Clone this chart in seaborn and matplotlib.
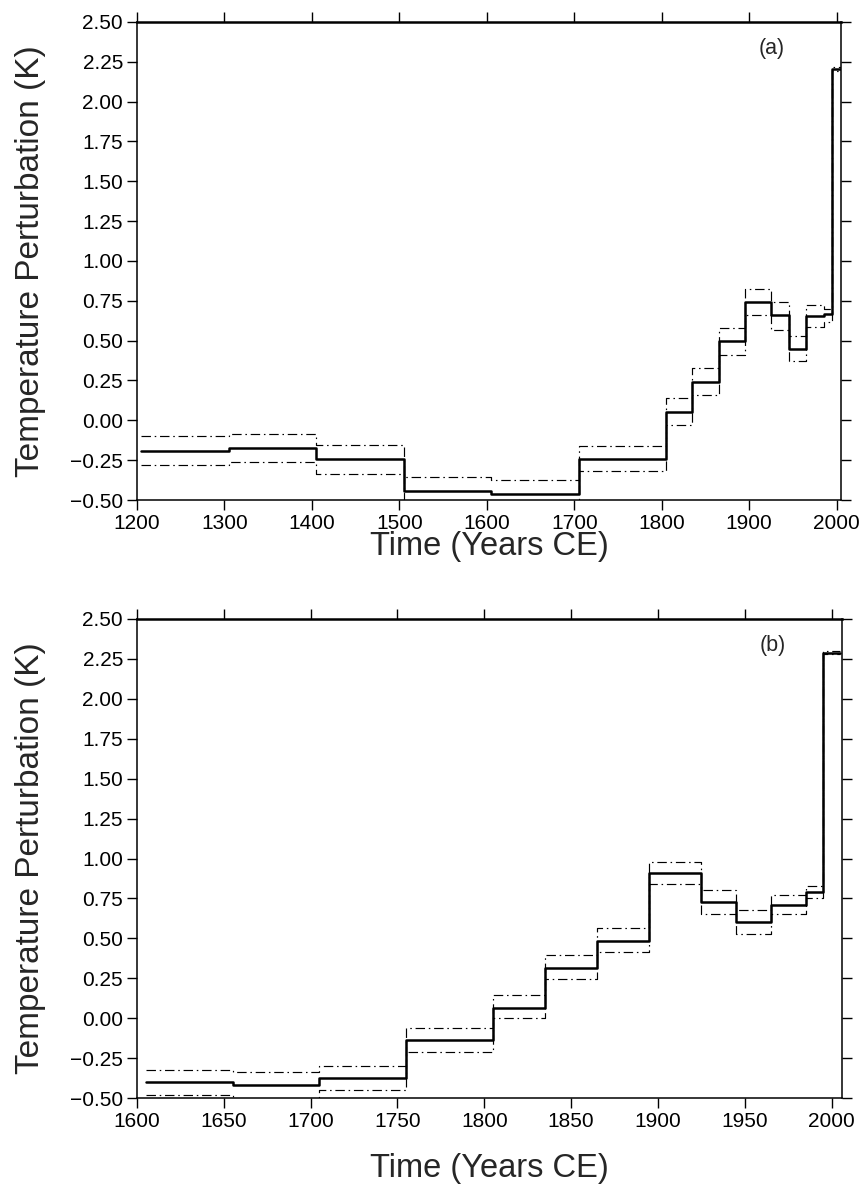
import matplotlib
matplotlib.use("Agg")
import matplotlib.pyplot as plt
from matplotlib.ticker import FuncFormatter
import seaborn as sns
import pandas as pd

# ---------------- data ----------------
edges_a = [1205, 1305, 1405, 1505, 1605, 1705, 1805, 1835, 1865, 1895,
           1925, 1945, 1965, 1985, 1995, 2005]
mean_a = [-0.19, -0.175, -0.245, -0.445, -0.46, -0.245, 0.05, 0.24, 0.495,
          0.74, 0.66, 0.45, 0.655, 0.67, 2.205]
upper_a = [-0.10, -0.085, -0.155, -0.355, -0.375, -0.16, 0.14, 0.33, 0.58,
           0.825, 0.74, 0.53, 0.725, 0.70, 2.22]
lower_a = [-0.28, -0.26, -0.335, -0.53, -0.55, -0.32, -0.03, 0.16, 0.41,
           0.66, 0.57, 0.37, 0.585, 0.62, 2.19]

edges_b = [1605, 1655, 1705, 1755, 1805, 1835, 1865, 1895, 1925, 1945,
           1965, 1985, 1995, 2005]
mean_b = [-0.40, -0.42, -0.375, -0.1375, 0.065, 0.315, 0.485, 0.91, 0.73,
          0.60, 0.71, 0.79, 2.29]
upper_b = [-0.325, -0.34, -0.30, -0.06, 0.145, 0.395, 0.565, 0.98, 0.805,
           0.68, 0.77, 0.83, 2.30]
lower_b = [-0.48, -0.515, -0.45, -0.215, 0.0, 0.245, 0.415, 0.84, 0.65,
           0.525, 0.65, 0.75, 2.28]

xticks_a = [1200, 1300, 1400, 1500, 1600, 1700, 1800, 1900, 2000]
xticks_b = [1600, 1650, 1700, 1750, 1800, 1850, 1900, 1950, 2000]
yticks = [-0.5, -0.25, 0.0, 0.25, 0.5, 0.75, 1.0, 1.25, 1.5, 1.75, 2.0, 2.25, 2.5]
panel_labels = ["(a)", "(b)"]
xlabel = "Time (Years CE)"
ylabel = "Temperature Perturbation (K)"

# ---------------- style ----------------
sns.set_style("ticks")
plt.rcParams["font.family"] = ["Liberation Sans", "DejaVu Sans"]
plt.rcParams["axes.linewidth"] = 1.1

W, H = 865, 1186
fig = plt.figure(figsize=(W / 100, H / 100), dpi=100)

def ax_rect(left, top, right, bottom):
    return [left / W, 1 - bottom / H, (right - left) / W, (bottom - top) / H]

ax_a = fig.add_axes(ax_rect(137, 22, 841, 500))
ax_b = fig.add_axes(ax_rect(137, 619, 842, 1098))

dashdot = (0, (8, 3.2, 1.3, 3.2))
yfmt = FuncFormatter(lambda v, p: ("%.2f" % v).replace("-", "\u2212"))

def step_frame(edges, vals):
    return pd.DataFrame({"x": edges, "y": list(vals) + [vals[-1]]})

def draw(ax, edges, mean, upper, lower, xlim, xticks, label, xpad):
    for vals, lw, ls in [(upper, 0.85, dashdot), (lower, 0.85, dashdot),
                         (mean, 1.8, "-")]:
        df = step_frame(edges, vals)
        sns.lineplot(data=df, x="x", y="y", ax=ax, color="black",
                     linewidth=lw, linestyle=ls, drawstyle="steps-post",
                     estimator=None, sort=False, legend=False)
    ax.set_xlim(*xlim)
    ax.set_ylim(-0.5, 2.5)
    ax.set_xticks(xticks)
    ax.set_yticks(yticks)
    ax.yaxis.set_major_formatter(yfmt)
    ax.tick_params(direction="out", length=7, width=1.0, labelsize=15,
                   top=True, right=True, labeltop=False, labelright=False,
                   colors="black", pad=3)
    for s in ax.spines.values():
        s.set_visible(True)
        s.set_color("black")
    ax.spines["top"].set_linewidth(1.8)
    ax.set_xlabel(xlabel, fontsize=23.5, labelpad=xpad)
    ax.set_ylabel(ylabel, fontsize=24, labelpad=17)
    ax.text(0.902, 0.945, label, transform=ax.transAxes, fontsize=15.5,
            ha="center", va="center")

draw(ax_a, edges_a, mean_a, upper_a, lower_a, (1200, 2005), xticks_a,
     panel_labels[0], -1)
draw(ax_b, edges_b, mean_b, upper_b, lower_b, (1600, 2006), xticks_b,
     panel_labels[1], 16)

fig.savefig("out.png", dpi=100, facecolor="white")
